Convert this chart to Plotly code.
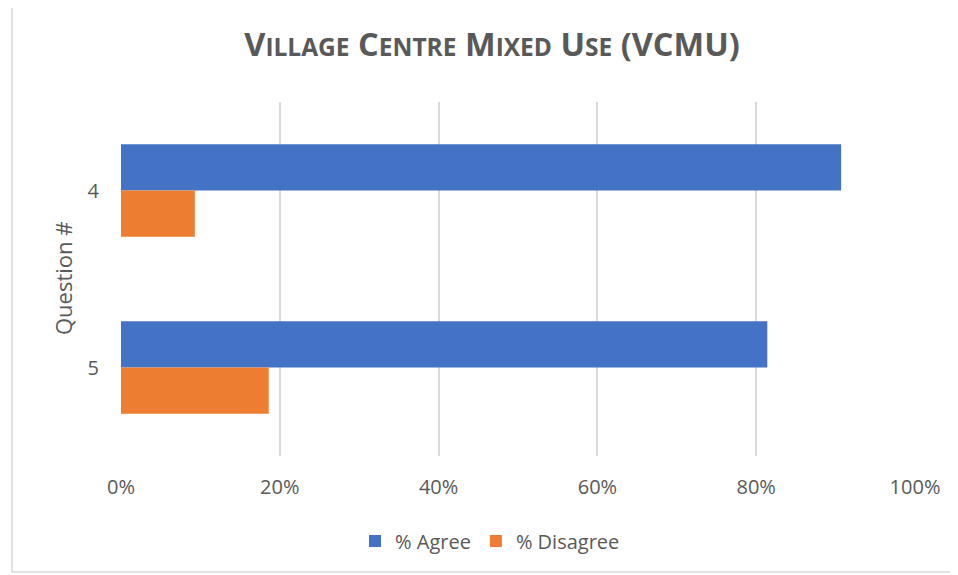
import plotly.graph_objects as go

questions = ["4", "5"]
agree = [90.7, 81.4]
disagree = [9.3, 18.6]
series_names = ["% Agree", "% Disagree"]
x_ticks = [0, 20, 40, 60, 80, 100]
x_tick_labels = ["0%", "20%", "40%", "60%", "80%", "100%"]

FONT = "Open Sans"
GREY = "#595959"

OFF = 8  # default page body margin
W, H = 958 - OFF, 575 - OFF
L, T = 121 - OFF, 102 - OFF
R, B = 43, 119
pw, ph = W - L - R, H - T - B

def px_x(p):
    return (p - OFF - L) / pw

def px_y(p):
    return (H - B - (p - OFF)) / ph

fig = go.Figure()
fig.add_trace(go.Bar(y=questions, x=agree, orientation="h", name=series_names[0],
                     marker=dict(color="#4472C4", line=dict(width=0))))
fig.add_trace(go.Bar(y=questions, x=disagree, orientation="h", name=series_names[1],
                     marker=dict(color="#ED7D31", line=dict(width=0))))

def small_caps(text, small=24.5):
    out = []
    for word in text.split(" "):
        parts = []
        for ch in word:
            if ch.isalpha() and ch.islower():
                parts.append(f"<span style='font-size:{small}px'>{ch.upper()}</span>")
            else:
                parts.append(ch)
        out.append("".join(parts))
    return " ".join(out)

title_text = "<b>" + small_caps("Village Centre Mixed Use (VCMU)") + "</b>"

fig.update_layout(
    width=W, height=H,
    margin=dict(l=L, r=R, t=T, b=B, autoexpand=False),
    paper_bgcolor="white", plot_bgcolor="white",
    barmode="group", bargap=0.478, bargroupgap=0,
    font=dict(family=FONT, color=GREY, size=20),
    title=dict(text=title_text, x=(492 - OFF) / W, xanchor="center", xref="container",
               y=1 - (45 - OFF) / H, yanchor="middle", yref="container",
               font=dict(family=FONT, size=32.5, color=GREY)),
    xaxis=dict(range=[0, 100], tickvals=x_ticks, ticktext=x_tick_labels,
               showgrid=True, gridcolor="#D9D9D9", gridwidth=1.5,
               zeroline=False, showline=False,
               ticks="outside", ticklen=13, tickcolor="rgba(0,0,0,0)",
               tickfont=dict(size=20, color=GREY, family=FONT)),
    yaxis=dict(type="category", autorange="reversed",
               showgrid=False, zeroline=False, showline=False,
               ticks="outside", ticklen=17, tickcolor="rgba(0,0,0,0)",
               tickfont=dict(size=20, color=GREY, family=FONT)),
    legend=dict(orientation="h", x=px_x(490), xanchor="center",
                y=px_y(541), yanchor="middle",
                font=dict(size=20, color=GREY, family=FONT),
                itemwidth=30, traceorder="normal"),
    showlegend=True,
)

fig.add_annotation(text="Question #", textangle=-90, xref="paper", yref="paper",
                   x=px_x(63), y=px_y(278), xanchor="center", yanchor="middle",
                   showarrow=False, font=dict(size=22, color=GREY, family=FONT))

# chart-area border
fig.add_shape(type="rect", xref="paper", yref="paper",
              x0=px_x(12), x1=px_x(955), y0=px_y(572), y1=px_y(-5),
              line=dict(color="#D9D9D9", width=1.5), fillcolor="rgba(0,0,0,0)", layer="below")

fig.write_html("out.html")
